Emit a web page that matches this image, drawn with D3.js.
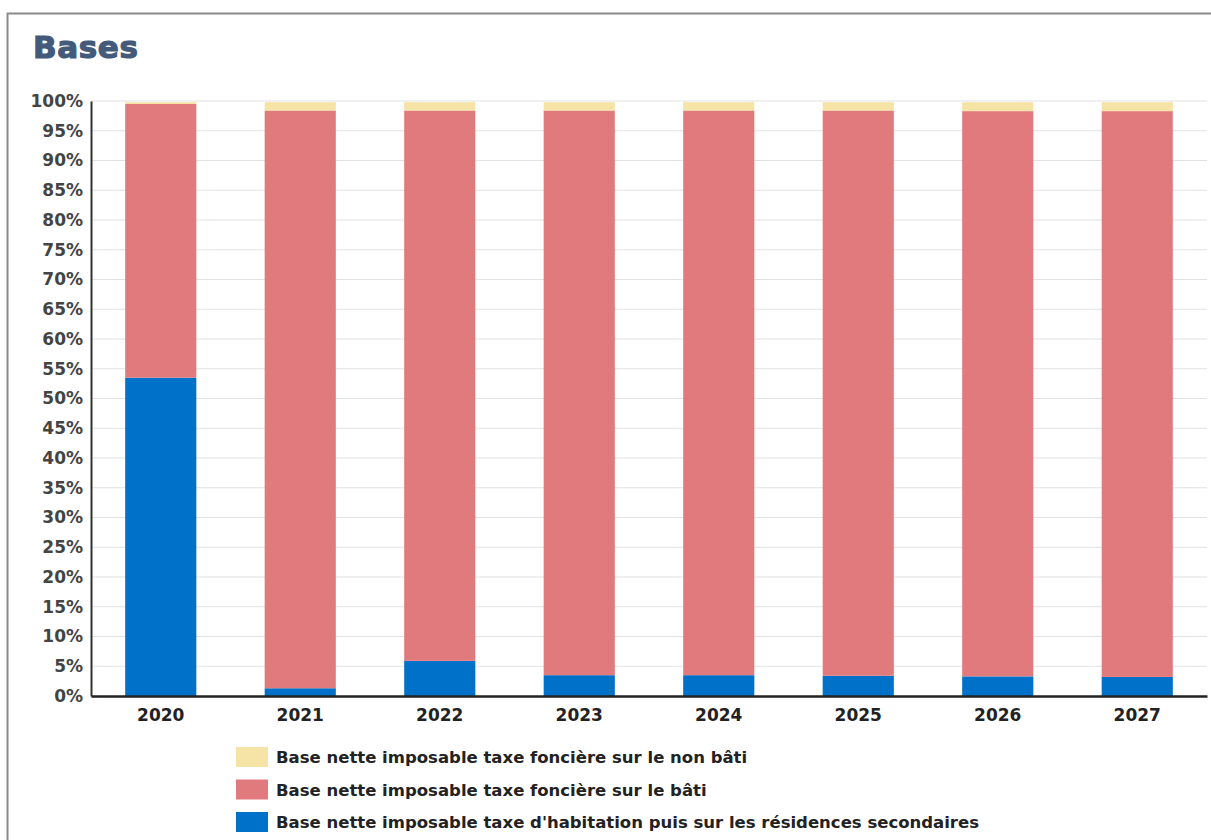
<!DOCTYPE html>
<html><head><meta charset="utf-8">
<script src="https://cdn.jsdelivr.net/npm/d3@7"></script>
<style>
html,body{margin:0;padding:0;background:#fff;}
svg{display:block;}
</style></head>
<body>
<svg id="chart" width="1211" height="840"></svg>
<script>
const years = ["2020","2021","2022","2023","2024","2025","2026","2027"];
const habitation = [53.5, 1.3, 5.9, 3.5, 3.5, 3.4, 3.3, 3.2];
const bati = [46.0, 97.1, 92.5, 94.9, 94.9, 95.0, 95.0, 95.1];
const nonBati = [0.3, 1.4, 1.4, 1.4, 1.4, 1.4, 1.5, 1.5];
const seriesNames = [
  "Base nette imposable taxe d'habitation puis sur les résidences secondaires",
  "Base nette imposable taxe foncière sur le bâti",
  "Base nette imposable taxe foncière sur le non bâti"
];
const seriesColors = ["#0071c9", "#e17a7d", "#f6e4a6"];
const yTicks = d3.range(0, 101, 5);

const svg = d3.select("#chart");
const margin = {left: 91, right: 1207, top: 101, bottom: 696};

// frame
svg.append("path").attr("d", "M7.5,840 V13.5 H1211").attr("fill","none").attr("stroke","#8a8a8a").attr("stroke-width",2);

svg.append("text").attr("x", 33).attr("y", 58).text("Bases")
  .attr("font-family","DejaVu Sans").attr("font-weight","bold").attr("font-size",31)
  .attr("fill","#435a7a").attr("stroke","#435a7a").attr("stroke-width",1.2)
  .attr("letter-spacing","0.6");

const x = d3.scaleBand().domain(years).range([margin.left, margin.right]).paddingInner(0.49).paddingOuter(0.245);
const y = d3.scaleLinear().domain([0,100]).range([margin.bottom, margin.top]);

// grid
svg.append("g").selectAll("line").data(yTicks.filter(d=>d>0)).join("line")
  .attr("x1", margin.left).attr("x2", margin.right)
  .attr("y1", d=>y(d)).attr("y2", d=>y(d))
  .attr("stroke","#e2e2e2").attr("stroke-width",1.2);

// stacked data
const rows = years.map((yr,i)=>({year: yr, s0: habitation[i], s1: bati[i], s2: nonBati[i]}));
const stack = d3.stack().keys(["s0","s1","s2"]);
const layers = stack(rows);
svg.append("g").selectAll("g").data(layers).join("g")
  .attr("fill", (d,i)=>seriesColors[i])
  .selectAll("rect").data(d=>d).join("rect")
  .attr("x", d=>x(d.data.year)).attr("width", x.bandwidth())
  .attr("y", d=>y(d[1])).attr("height", d=>y(d[0])-y(d[1]));

// y axis
const yAxis = d3.axisLeft(y).tickValues(yTicks).tickFormat(d=>d+"%").tickSize(0).tickPadding(8);
const gy = svg.append("g").attr("transform",`translate(${margin.left},0)`).call(yAxis);
gy.select(".domain").attr("stroke","#333").attr("stroke-width",2);
gy.selectAll("text").attr("font-family","DejaVu Sans").attr("font-size",17).attr("fill","#444").attr("font-weight","600");

// x axis
const xAxis = d3.axisBottom(x).tickSize(0).tickPadding(13);
const gx = svg.append("g").attr("transform",`translate(0,${margin.bottom})`).call(xAxis);
gx.select(".domain").attr("stroke","#222").attr("stroke-width",2.5);
gx.selectAll("text").attr("font-family","DejaVu Sans").attr("font-size",17).attr("font-weight","bold").attr("fill","#222");

// legend
const legendOrder = [2,1,0];
const lg = svg.append("g").attr("transform","translate(236,747)");
legendOrder.forEach((si,k)=>{
  const g = lg.append("g").attr("transform",`translate(0,${k*32.5})`);
  g.append("rect").attr("width",32).attr("height",20).attr("fill",seriesColors[si]);
  g.append("text").attr("x",40).attr("y",16).text(seriesNames[si])
    .attr("font-family","DejaVu Sans").attr("font-size",16.5).attr("fill","#222").attr("font-weight","600");
});
</script>
</body></html>
